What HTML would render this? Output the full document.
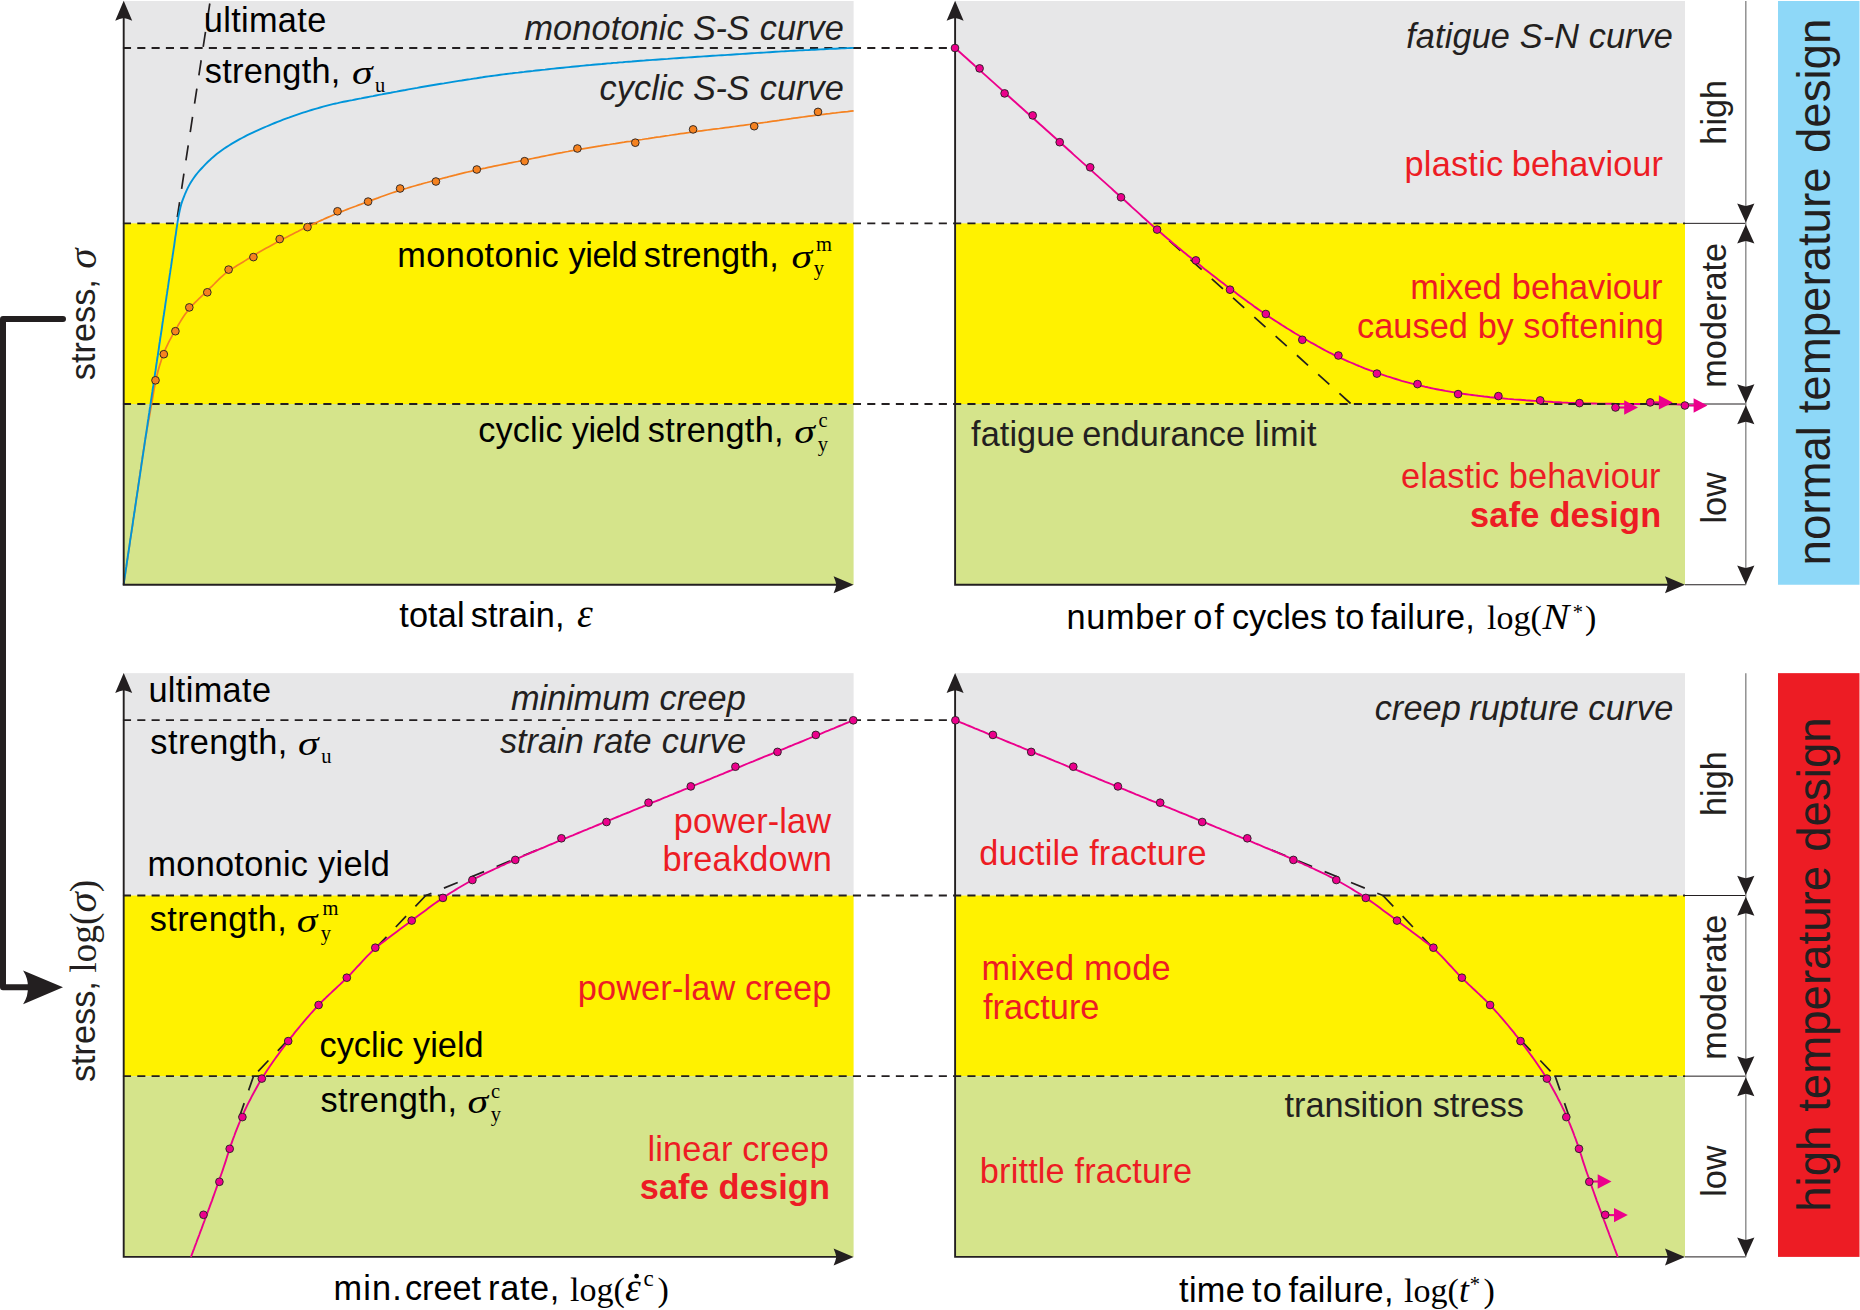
<!DOCTYPE html>
<html lang="en"><head><meta charset="utf-8"><title>Design stress regimes</title>
<style>html,body{margin:0;padding:0;background:#fff}svg{display:block}text{font-family:"Liberation Sans",sans-serif;font-size:34.3px;fill:#231f20;font-kerning:none}.r{fill:#ed1c24}.i{font-style:italic}.b{font-weight:bold}.big{font-size:45.6px}.k{fill:#000}.m{font-family:"Liberation Serif",serif;font-size:34px}.mi{font-family:"Liberation Serif",serif;font-style:italic;font-size:36px}.eps{font-size:40px}.nn{font-size:35.5px}.sub2{font-size:23px}.sub{font-size:20.5px}.sg{font-size:34.7px}.rs{font-size:41px}.rm{font-size:37.5px}</style></head><body>
<svg width="1860" height="1310" viewBox="0 0 1860 1310">
<rect width="1860" height="1310" fill="#fff"/>
<rect x="123.7" y="1.0" width="729.9" height="222.35" fill="#e7e7e8"/>
<rect x="123.7" y="223.35" width="729.9" height="180.65" fill="#fff200"/>
<rect x="123.7" y="404.0" width="729.9" height="180.75" fill="#d5e48b"/>
<rect x="955.1" y="1.0" width="729.9" height="222.35" fill="#e7e7e8"/>
<rect x="955.1" y="223.35" width="729.9" height="180.65" fill="#fff200"/>
<rect x="955.1" y="404.0" width="729.9" height="180.75" fill="#d5e48b"/>
<rect x="123.7" y="673.15" width="729.9" height="222.35" fill="#e7e7e8"/>
<rect x="123.7" y="895.5" width="729.9" height="180.65" fill="#fff200"/>
<rect x="123.7" y="1076.15" width="729.9" height="180.75" fill="#d5e48b"/>
<rect x="955.1" y="673.15" width="729.9" height="222.35" fill="#e7e7e8"/>
<rect x="955.1" y="895.5" width="729.9" height="180.65" fill="#fff200"/>
<rect x="955.1" y="1076.15" width="729.9" height="180.75" fill="#d5e48b"/>
<rect x="1778" y="1.0" width="81.5" height="583.75" fill="#8ed8f8"/>
<rect x="1778" y="673.15" width="81.5" height="583.75" fill="#ed1c24"/>
<path d="M122.95,48.0H955.1" stroke="#231f20" stroke-width="1.85" stroke-dasharray="8.1 6.213" fill="none"/>
<path d="M122.95,223.35H1685.0" stroke="#231f20" stroke-width="1.85" stroke-dasharray="8.1 6.213" fill="none"/>
<path d="M122.95,404.0H1685.0" stroke="#231f20" stroke-width="1.85" stroke-dasharray="8.1 6.213" fill="none"/>
<path d="M1685.0,223.35H1745.8" stroke="#231f20" stroke-width="1.0" fill="none"/>
<path d="M1685.0,404.0H1745.8" stroke="#231f20" stroke-width="1.0" fill="none"/>
<path d="M1685.0,584.75H1745.8" stroke="#231f20" stroke-width="1.0" fill="none"/>
<path d="M1745.8,1.0V584.75" stroke="#8a8a8a" stroke-width="1.4" fill="none"/>
<path d="M0,0L-19,8.6Q-17.125,3.87 -16.5,0Q-17.125,-3.87 -19,-8.6Z" fill="#231f20" transform="translate(1745.8,222.54999999999998) rotate(90)"/>
<path d="M0,0L-19,8.6Q-17.125,3.87 -16.5,0Q-17.125,-3.87 -19,-8.6Z" fill="#231f20" transform="translate(1745.8,224.54999999999998) rotate(-90)"/>
<path d="M0,0L-19,8.6Q-17.125,3.87 -16.5,0Q-17.125,-3.87 -19,-8.6Z" fill="#231f20" transform="translate(1745.8,403.2) rotate(90)"/>
<path d="M0,0L-19,8.6Q-17.125,3.87 -16.5,0Q-17.125,-3.87 -19,-8.6Z" fill="#231f20" transform="translate(1745.8,405.2) rotate(-90)"/>
<path d="M0,0L-19,8.6Q-17.125,3.87 -16.5,0Q-17.125,-3.87 -19,-8.6Z" fill="#231f20" transform="translate(1745.8,584.45) rotate(90)"/>
<path d="M122.95,720.15H955.1" stroke="#231f20" stroke-width="1.85" stroke-dasharray="8.1 6.213" fill="none"/>
<path d="M122.95,895.5H1685.0" stroke="#231f20" stroke-width="1.85" stroke-dasharray="8.1 6.213" fill="none"/>
<path d="M122.95,1076.15H1685.0" stroke="#231f20" stroke-width="1.85" stroke-dasharray="8.1 6.213" fill="none"/>
<path d="M1685.0,895.5H1745.8" stroke="#231f20" stroke-width="1.0" fill="none"/>
<path d="M1685.0,1076.15H1745.8" stroke="#231f20" stroke-width="1.0" fill="none"/>
<path d="M1685.0,1256.9H1745.8" stroke="#231f20" stroke-width="1.0" fill="none"/>
<path d="M1745.8,673.15V1256.9" stroke="#8a8a8a" stroke-width="1.4" fill="none"/>
<path d="M0,0L-19,8.6Q-17.125,3.87 -16.5,0Q-17.125,-3.87 -19,-8.6Z" fill="#231f20" transform="translate(1745.8,894.7) rotate(90)"/>
<path d="M0,0L-19,8.6Q-17.125,3.87 -16.5,0Q-17.125,-3.87 -19,-8.6Z" fill="#231f20" transform="translate(1745.8,896.7) rotate(-90)"/>
<path d="M0,0L-19,8.6Q-17.125,3.87 -16.5,0Q-17.125,-3.87 -19,-8.6Z" fill="#231f20" transform="translate(1745.8,1075.3500000000001) rotate(90)"/>
<path d="M0,0L-19,8.6Q-17.125,3.87 -16.5,0Q-17.125,-3.87 -19,-8.6Z" fill="#231f20" transform="translate(1745.8,1077.3500000000001) rotate(-90)"/>
<path d="M0,0L-19,8.6Q-17.125,3.87 -16.5,0Q-17.125,-3.87 -19,-8.6Z" fill="#231f20" transform="translate(1745.8,1256.6000000000001) rotate(90)"/>
<path d="M209.8,3.5L177.3,217.2" stroke="#231f20" stroke-width="1.7" stroke-dasharray="15.2 13.5" fill="none"/>
<path d="M123.6,584.8L124.0,581.8L124.5,578.8L124.9,575.8L125.4,572.9L125.8,569.9L126.3,566.9L126.7,563.9L127.1,561.0L127.6,558.0L128.0,555.0L128.5,552.0L128.9,549.1L129.4,546.1L129.8,543.1L130.2,540.1L130.7,537.2L131.1,534.2L131.6,531.2L132.0,528.2L132.5,525.3L132.9,522.3L133.3,519.3L133.8,516.4L134.2,513.4L134.7,510.4L135.1,507.4L135.6,504.5L136.0,501.5L136.4,498.5L136.9,495.5L137.3,492.6L137.8,489.6L138.2,486.6L138.6,483.6L139.0,480.7L139.5,477.7L139.9,474.7L140.3,471.7L140.8,468.7L141.2,465.8L141.6,462.8L142.1,459.8L142.5,456.8L143.0,453.9L143.4,450.9L143.9,447.9L144.4,445.0L144.9,442.0L145.3,439.0L145.9,436.1L146.4,433.1L146.9,430.2L147.4,427.2L148.0,424.2L148.5,421.3L149.1,418.3L149.6,415.4L150.1,412.4L150.6,409.4L151.1,406.5L151.6,403.5L152.2,400.5L152.7,397.6L153.2,394.6L153.7,391.6L154.2,388.7L154.8,385.7L155.3,382.8L156.0,379.8L156.6,376.9L157.3,374.0L158.0,371.1L158.8,368.2L159.7,365.3L160.6,362.4L161.5,359.5L162.5,356.7L163.5,353.9L164.6,351.1L165.8,348.4L167.1,345.6L168.4,342.9L169.8,340.2L171.2,337.6L172.6,334.9L174.1,332.3L175.5,329.7L177.1,327.1L178.6,324.5L180.2,321.9L181.8,319.3L183.4,316.8L185.1,314.3L186.9,311.9L188.7,309.6L190.6,307.3L192.6,305.1L194.7,302.9L196.8,300.8L199.0,298.7L201.2,296.6L203.4,294.5L205.6,292.5L207.8,290.4L209.9,288.2L212.1,286.1L214.2,284.0L216.3,281.8L218.5,279.7L220.6,277.6L222.9,275.6L225.1,273.7L227.5,271.8L229.9,270.1L232.4,268.4L234.9,266.9L237.5,265.3L240.1,263.8L242.7,262.2L245.2,260.6L247.8,259.0L250.4,257.5L252.9,255.9L255.5,254.4L258.1,252.8L260.7,251.3L263.3,249.8L265.9,248.3L268.5,246.9L271.2,245.4L273.8,244.0L276.5,242.5L279.1,241.1L281.8,239.7L284.4,238.3L287.1,236.9L289.8,235.5L292.4,234.2L295.1,232.8L297.8,231.5L300.5,230.1L303.2,228.8L305.9,227.5L308.6,226.2L311.3,224.9L314.1,223.6L316.8,222.4L319.5,221.1L322.3,219.9L325.0,218.6L327.8,217.4L330.5,216.2L333.3,215.0L336.0,213.8L338.8,212.7L341.6,211.6L344.4,210.5L347.2,209.4L350.0,208.3L352.8,207.2L355.6,206.2L358.4,205.1L361.3,204.1L364.1,203.0L366.9,202.0L369.7,201.0L372.6,199.9L375.4,198.9L378.2,197.9L381.0,196.8L383.9,195.8L386.7,194.8L389.5,193.8L392.4,192.8L395.2,191.9L398.1,190.9L401.0,190.0L403.8,189.1L406.7,188.3L409.6,187.4L412.5,186.5L415.3,185.7L418.2,184.9L421.1,184.1L424.0,183.2L426.9,182.5L429.8,181.7L432.7,180.9L435.6,180.1L438.5,179.3L441.5,178.6L444.4,177.8L447.3,177.1L450.2,176.3L453.1,175.6L456.0,174.9L458.9,174.1L461.9,173.4L464.8,172.7L467.7,172.0L470.6,171.4L473.6,170.7L476.5,170.0L479.4,169.4L482.4,168.7L485.3,168.1L488.3,167.4L491.2,166.8L494.1,166.2L497.1,165.6L500.0,165.0L503.0,164.4L505.9,163.8L508.9,163.2L511.8,162.6L514.8,162.0L517.7,161.5L520.7,160.9L523.6,160.3L526.6,159.7L529.5,159.1L532.5,158.5L535.4,157.9L538.4,157.3L541.3,156.7L544.2,156.1L547.2,155.5L550.1,154.9L553.1,154.3L556.0,153.7L559.0,153.1L561.9,152.6L564.9,152.0L567.9,151.5L570.8,150.9L573.8,150.4L576.7,149.8L579.7,149.3L582.6,148.8L585.6,148.3L588.6,147.8L591.5,147.3L594.5,146.8L597.5,146.3L600.4,145.9L603.4,145.4L606.4,144.9L609.4,144.5L612.3,144.0L615.3,143.6L618.3,143.1L621.2,142.6L624.2,142.2L627.2,141.7L630.2,141.3L633.1,140.8L636.1,140.4L639.1,139.9L642.1,139.5L645.0,139.0L648.0,138.6L651.0,138.1L653.9,137.7L656.9,137.2L659.9,136.8L662.9,136.3L665.8,135.9L668.8,135.5L671.8,135.0L674.8,134.6L677.7,134.2L680.7,133.7L683.7,133.3L686.7,132.9L689.6,132.5L692.6,132.1L695.6,131.6L698.6,131.2L701.6,130.8L704.5,130.4L707.5,130.0L710.5,129.6L713.5,129.2L716.5,128.8L719.4,128.5L722.4,128.1L725.4,127.7L728.4,127.3L731.4,126.9L734.4,126.5L737.3,126.1L740.3,125.7L743.3,125.3L746.3,124.9L749.3,124.5L752.2,124.1L755.2,123.7L758.2,123.3L761.2,122.9L764.2,122.5L767.1,122.1L770.1,121.6L773.1,121.2L776.1,120.8L779.0,120.4L782.0,119.9L785.0,119.5L788.0,119.1L790.9,118.7L793.9,118.2L796.9,117.8L799.9,117.4L802.9,117.0L805.8,116.6L808.8,116.2L811.8,115.8L814.8,115.4L817.8,115.0L820.7,114.7L823.7,114.3L826.7,113.9L829.7,113.6L832.7,113.2L835.7,112.9L838.7,112.5L841.6,112.2L844.6,111.9L847.6,111.6L850.6,111.2L853.6,110.9" stroke="#f58220" stroke-width="1.7" fill="none"/>
<path d="M123.6,584.8L124.0,581.8L124.5,578.8L124.9,575.8L125.4,572.9L125.8,569.9L126.3,566.9L126.7,564.0L127.1,561.0L127.6,558.0L128.0,555.0L128.5,552.1L128.9,549.1L129.4,546.1L129.8,543.2L130.2,540.2L130.7,537.2L131.1,534.3L131.6,531.3L132.0,528.3L132.5,525.3L132.9,522.4L133.3,519.4L133.8,516.4L134.2,513.5L134.7,510.5L135.1,507.5L135.5,504.6L136.0,501.6L136.4,498.6L136.9,495.6L137.3,492.7L137.8,489.7L138.2,486.7L138.6,483.8L139.1,480.8L139.5,477.8L140.0,474.9L140.4,471.9L140.9,468.9L141.3,465.9L141.7,463.0L142.2,460.0L142.6,457.0L143.1,454.1L143.5,451.1L144.0,448.1L144.4,445.1L144.8,442.2L145.3,439.2L145.7,436.2L146.2,433.3L146.6,430.3L147.1,427.3L147.5,424.4L147.9,421.4L148.4,418.4L148.8,415.4L149.3,412.5L149.7,409.5L150.2,406.5L150.6,403.6L151.0,400.6L151.5,397.6L151.9,394.7L152.4,391.7L152.8,388.7L153.3,385.7L153.7,382.8L154.1,379.8L154.6,376.8L155.0,373.9L155.5,370.9L155.9,367.9L156.3,365.0L156.8,362.0L157.2,359.0L157.7,356.0L158.1,353.1L158.6,350.1L159.0,347.1L159.4,344.2L159.9,341.2L160.3,338.2L160.8,335.2L161.2,332.3L161.7,329.3L162.1,326.3L162.5,323.4L163.0,320.4L163.4,317.4L163.9,314.5L164.3,311.5L164.8,308.5L165.2,305.5L165.6,302.6L166.1,299.6L166.5,296.6L167.0,293.7L167.4,290.7L167.9,287.7L168.3,284.8L168.7,281.8L169.2,278.8L169.6,275.8L170.1,272.9L170.5,269.9L171.0,266.9L171.4,264.0L171.8,261.0L172.3,258.0L172.7,255.1L173.2,252.1L173.6,249.1L174.1,246.1L174.5,243.2L174.9,240.2L175.3,237.2L175.8,234.3L176.2,231.3L176.6,228.3L177.1,225.3L177.5,222.4L178.0,219.4L178.5,216.4L179.1,213.5L179.7,210.6L180.4,207.6L181.1,204.8L182.0,201.9L183.0,199.1L184.1,196.3L185.2,193.5L186.4,190.8L187.7,188.1L189.1,185.4L190.6,182.8L192.2,180.2L193.9,177.8L195.6,175.4L197.5,173.0L199.5,170.7L201.5,168.5L203.5,166.3L205.6,164.1L207.7,162.0L209.9,160.0L212.1,157.9L214.4,156.0L216.7,154.1L219.1,152.3L221.5,150.5L223.9,148.8L226.4,147.1L229.0,145.5L231.5,143.9L234.1,142.4L236.7,140.9L239.3,139.4L242.0,138.0L244.6,136.6L247.3,135.2L250.0,133.9L252.7,132.6L255.4,131.3L258.2,130.1L260.9,128.9L263.7,127.7L266.4,126.5L269.2,125.3L272.0,124.1L274.7,123.0L277.5,121.9L280.3,120.8L283.1,119.7L285.9,118.7L288.8,117.7L291.6,116.6L294.4,115.6L297.3,114.6L300.1,113.7L303.0,112.7L305.8,111.8L308.7,110.9L311.5,110.0L314.4,109.1L317.3,108.3L320.2,107.5L323.1,106.7L326.0,105.9L328.9,105.1L331.8,104.4L334.7,103.7L337.6,103.1L340.6,102.4L343.5,101.8L346.5,101.2L349.4,100.6L352.4,100.1L355.3,99.5L358.3,98.9L361.2,98.4L364.2,97.8L367.1,97.2L370.0,96.6L373.0,96.1L375.9,95.5L378.9,94.9L381.8,94.4L384.8,93.8L387.7,93.2L390.7,92.7L393.6,92.1L396.6,91.6L399.6,91.0L402.5,90.5L405.5,90.0L408.4,89.4L411.4,88.9L414.3,88.4L417.3,87.9L420.2,87.3L423.2,86.8L426.2,86.3L429.1,85.8L432.1,85.3L435.1,84.8L438.0,84.3L441.0,83.8L443.9,83.4L446.9,82.9L449.9,82.4L452.8,81.9L455.8,81.4L458.8,80.9L461.7,80.5L464.7,80.0L467.7,79.5L470.6,79.1L473.6,78.6L476.6,78.2L479.5,77.7L482.5,77.3L485.5,76.8L488.4,76.4L491.4,76.0L494.4,75.6L497.4,75.2L500.3,74.8L503.3,74.4L506.3,74.0L509.3,73.6L512.3,73.3L515.2,72.9L518.2,72.6L521.2,72.2L524.2,71.9L527.2,71.5L530.2,71.2L533.1,70.9L536.1,70.5L539.1,70.2L542.1,69.9L545.1,69.6L548.1,69.2L551.1,68.9L554.0,68.6L557.0,68.3L560.0,68.0L563.0,67.7L566.0,67.4L569.0,67.1L572.0,66.8L575.0,66.5L578.0,66.2L580.9,65.9L583.9,65.6L586.9,65.3L589.9,65.1L592.9,64.8L595.9,64.5L598.9,64.2L601.9,64.0L604.9,63.7L607.9,63.4L610.8,63.2L613.8,62.9L616.8,62.7L619.8,62.4L622.8,62.2L625.8,61.9L628.8,61.7L631.8,61.5L634.8,61.2L637.8,61.0L640.8,60.8L643.8,60.6L646.8,60.3L649.8,60.1L652.8,59.9L655.8,59.7L658.8,59.5L661.7,59.3L664.7,59.1L667.7,58.9L670.7,58.6L673.7,58.4L676.7,58.2L679.7,58.0L682.7,57.8L685.7,57.6L688.7,57.4L691.7,57.2L694.7,57.0L697.7,56.8L700.7,56.6L703.7,56.4L706.7,56.2L709.7,56.0L712.7,55.8L715.7,55.6L718.7,55.4L721.7,55.2L724.7,55.1L727.7,54.9L730.7,54.7L733.7,54.5L736.7,54.3L739.7,54.1L742.7,53.9L745.7,53.7L748.6,53.5L751.6,53.3L754.6,53.1L757.6,52.9L760.6,52.7L763.6,52.6L766.6,52.4L769.6,52.2L772.6,52.0L775.6,51.8L778.6,51.6L781.6,51.4L784.6,51.3L787.6,51.1L790.6,50.9L793.6,50.7L796.6,50.6L799.6,50.4L802.6,50.3L805.6,50.1L808.6,50.0L811.6,49.8L814.6,49.7L817.6,49.5L820.6,49.4L823.6,49.2L826.6,49.1L829.6,48.9L832.6,48.8L835.6,48.7L838.6,48.5L841.6,48.4L844.6,48.3L847.6,48.1L850.6,48.0L853.6,47.9" stroke="#0095da" stroke-width="1.9" fill="none"/>
<circle cx="155.5" cy="380.3" r="3.85" fill="#f58220" stroke="#231f20" stroke-width="0.9"/>
<circle cx="163.8" cy="354.2" r="3.85" fill="#f58220" stroke="#231f20" stroke-width="0.9"/>
<circle cx="175.4" cy="331.2" r="3.85" fill="#f58220" stroke="#231f20" stroke-width="0.9"/>
<circle cx="189.3" cy="307.4" r="3.85" fill="#f58220" stroke="#231f20" stroke-width="0.9"/>
<circle cx="207.3" cy="292.3" r="3.85" fill="#f58220" stroke="#231f20" stroke-width="0.9"/>
<circle cx="228.6" cy="269.6" r="3.85" fill="#f58220" stroke="#231f20" stroke-width="0.9"/>
<circle cx="253.4" cy="257.1" r="3.85" fill="#f58220" stroke="#231f20" stroke-width="0.9"/>
<circle cx="279.7" cy="239.1" r="3.85" fill="#f58220" stroke="#231f20" stroke-width="0.9"/>
<circle cx="307.5" cy="227.1" r="3.85" fill="#f58220" stroke="#231f20" stroke-width="0.9"/>
<circle cx="337.5" cy="211.3" r="3.85" fill="#f58220" stroke="#231f20" stroke-width="0.9"/>
<circle cx="368.1" cy="201.6" r="3.85" fill="#f58220" stroke="#231f20" stroke-width="0.9"/>
<circle cx="400.1" cy="188.5" r="3.85" fill="#f58220" stroke="#231f20" stroke-width="0.9"/>
<circle cx="435.9" cy="181.5" r="3.85" fill="#f58220" stroke="#231f20" stroke-width="0.9"/>
<circle cx="476.8" cy="169.5" r="3.85" fill="#f58220" stroke="#231f20" stroke-width="0.9"/>
<circle cx="524.6" cy="161.2" r="3.85" fill="#f58220" stroke="#231f20" stroke-width="0.9"/>
<circle cx="577.4" cy="148.5" r="3.85" fill="#f58220" stroke="#231f20" stroke-width="0.9"/>
<circle cx="635.3" cy="142.7" r="3.85" fill="#f58220" stroke="#231f20" stroke-width="0.9"/>
<circle cx="693.1" cy="129.4" r="3.85" fill="#f58220" stroke="#231f20" stroke-width="0.9"/>
<circle cx="754.2" cy="126.2" r="3.85" fill="#f58220" stroke="#231f20" stroke-width="0.9"/>
<circle cx="818.0" cy="111.9" r="3.85" fill="#f58220" stroke="#231f20" stroke-width="0.9"/>
<path d="M123.7,11.0V584.75H843.6" stroke="#231f20" stroke-width="1.9" fill="none" stroke-linejoin="miter"/>
<path d="M0,0L-20.0,8.5Q-17.975,3.825 -17.3,0Q-17.975,-3.825 -20.0,-8.5Z" fill="#231f20" transform="translate(123.7,0.8) rotate(-90)"/>
<path d="M0,0L-20.0,8.5Q-17.975,3.825 -17.3,0Q-17.975,-3.825 -20.0,-8.5Z" fill="#231f20" transform="translate(853.6,584.75) rotate(0)"/>
<path d="M955.1,11.0V584.75H1675.0" stroke="#231f20" stroke-width="1.9" fill="none" stroke-linejoin="miter"/>
<path d="M0,0L-20.0,8.5Q-17.975,3.825 -17.3,0Q-17.975,-3.825 -20.0,-8.5Z" fill="#231f20" transform="translate(955.1,0.8) rotate(-90)"/>
<path d="M0,0L-20.0,8.5Q-17.975,3.825 -17.3,0Q-17.975,-3.825 -20.0,-8.5Z" fill="#231f20" transform="translate(1685.0,584.75) rotate(0)"/>
<path d="M123.7,683.15V1256.9H843.6" stroke="#231f20" stroke-width="1.9" fill="none" stroke-linejoin="miter"/>
<path d="M0,0L-20.0,8.5Q-17.975,3.825 -17.3,0Q-17.975,-3.825 -20.0,-8.5Z" fill="#231f20" transform="translate(123.7,672.9499999999999) rotate(-90)"/>
<path d="M0,0L-20.0,8.5Q-17.975,3.825 -17.3,0Q-17.975,-3.825 -20.0,-8.5Z" fill="#231f20" transform="translate(853.6,1256.9) rotate(0)"/>
<path d="M955.1,683.15V1256.9H1675.0" stroke="#231f20" stroke-width="1.9" fill="none" stroke-linejoin="miter"/>
<path d="M0,0L-20.0,8.5Q-17.975,3.825 -17.3,0Q-17.975,-3.825 -20.0,-8.5Z" fill="#231f20" transform="translate(955.1,672.9499999999999) rotate(-90)"/>
<path d="M0,0L-20.0,8.5Q-17.975,3.825 -17.3,0Q-17.975,-3.825 -20.0,-8.5Z" fill="#231f20" transform="translate(1685.0,1256.9) rotate(0)"/>
<path d="M1350.6,403.5L1163,235" stroke="#231f20" stroke-width="1.7" stroke-dasharray="15 13.6" fill="none"/>
<path d="M955.1,48.0L957.3,50.0L959.6,52.0L961.8,54.0L964.0,56.0L966.3,58.0L968.5,60.0L970.7,62.0L973.0,64.0L975.2,66.1L977.4,68.1L979.7,70.1L981.9,72.1L984.1,74.1L986.4,76.1L988.6,78.1L990.8,80.1L993.1,82.1L995.3,84.1L997.5,86.1L999.8,88.1L1002.0,90.1L1004.2,92.1L1006.4,94.1L1008.7,96.2L1010.9,98.2L1013.1,100.2L1015.4,102.2L1017.6,104.2L1019.8,106.2L1022.1,108.2L1024.3,110.2L1026.5,112.2L1028.8,114.2L1031.0,116.2L1033.2,118.2L1035.5,120.2L1037.7,122.2L1039.9,124.3L1042.2,126.3L1044.4,128.3L1046.6,130.3L1048.9,132.3L1051.1,134.3L1053.3,136.3L1055.6,138.3L1057.8,140.3L1060.0,142.3L1062.2,144.3L1064.5,146.3L1066.7,148.3L1068.9,150.3L1071.2,152.3L1073.4,154.4L1075.6,156.4L1077.9,158.4L1080.1,160.4L1082.3,162.4L1084.6,164.4L1086.8,166.4L1089.0,168.4L1091.3,170.4L1093.5,172.4L1095.7,174.4L1098.0,176.4L1100.2,178.4L1102.4,180.4L1104.7,182.4L1106.9,184.4L1109.1,186.4L1111.4,188.4L1113.6,190.5L1115.8,192.5L1118.1,194.5L1120.3,196.5L1122.5,198.5L1124.8,200.5L1127.0,202.5L1129.2,204.5L1131.4,206.6L1133.6,208.6L1135.9,210.6L1138.1,212.6L1140.3,214.6L1142.5,216.7L1144.8,218.7L1147.0,220.7L1149.2,222.7L1151.5,224.7L1153.7,226.7L1156.0,228.6L1158.2,230.6L1160.5,232.6L1162.8,234.5L1165.1,236.5L1167.4,238.4L1169.7,240.3L1171.9,242.3L1174.2,244.2L1176.6,246.1L1178.9,248.1L1181.2,250.0L1183.5,251.9L1185.8,253.8L1188.1,255.7L1190.5,257.6L1192.8,259.5L1195.1,261.4L1197.5,263.3L1199.8,265.1L1202.1,267.0L1204.5,268.9L1206.9,270.7L1209.2,272.6L1211.6,274.4L1214.0,276.3L1216.3,278.1L1218.7,279.9L1221.1,281.8L1223.5,283.6L1225.9,285.4L1228.3,287.2L1230.7,289.0L1233.1,290.8L1235.5,292.6L1237.9,294.4L1240.3,296.2L1242.7,298.0L1245.1,299.8L1247.5,301.6L1249.9,303.3L1252.4,305.1L1254.8,306.9L1257.3,308.6L1259.7,310.3L1262.2,312.0L1264.7,313.7L1267.1,315.4L1269.6,317.1L1272.1,318.7L1274.6,320.4L1277.2,322.0L1279.7,323.6L1282.2,325.3L1284.8,326.9L1287.3,328.5L1289.9,330.0L1292.4,331.6L1295.0,333.2L1297.6,334.7L1300.1,336.2L1302.7,337.7L1305.3,339.3L1307.9,340.8L1310.5,342.3L1313.1,343.7L1315.8,345.2L1318.4,346.7L1321.0,348.1L1323.7,349.6L1326.3,351.0L1329.0,352.4L1331.7,353.7L1334.3,355.1L1337.0,356.4L1339.7,357.6L1342.5,358.9L1345.2,360.1L1347.9,361.3L1350.7,362.5L1353.5,363.7L1356.2,364.9L1359.0,366.0L1361.8,367.2L1364.6,368.3L1367.4,369.3L1370.2,370.4L1373.0,371.4L1375.9,372.4L1378.7,373.4L1381.5,374.4L1384.4,375.3L1387.2,376.3L1390.1,377.2L1392.9,378.1L1395.8,379.0L1398.7,379.9L1401.6,380.8L1404.5,381.6L1407.4,382.4L1410.3,383.2L1413.2,383.9L1416.1,384.7L1419.0,385.4L1421.9,386.0L1424.8,386.7L1427.8,387.3L1430.7,388.0L1433.6,388.6L1436.6,389.2L1439.5,389.8L1442.5,390.3L1445.4,390.9L1448.4,391.4L1451.4,391.9L1454.3,392.4L1457.3,392.9L1460.2,393.3L1463.2,393.8L1466.2,394.2L1469.2,394.6L1472.1,395.0L1475.1,395.4L1478.1,395.8L1481.1,396.1L1484.1,396.5L1487.0,396.8L1490.0,397.2L1493.0,397.5L1496.0,397.8L1499.0,398.1L1502.0,398.3L1505.0,398.6L1507.9,398.9L1510.9,399.1L1513.9,399.4L1516.9,399.6L1519.9,399.8L1522.9,400.0L1525.9,400.3L1528.9,400.5L1531.9,400.7L1534.9,400.9L1537.9,401.1L1540.9,401.2L1543.9,401.4L1546.9,401.6L1549.9,401.8L1552.9,402.0L1555.9,402.1L1558.9,402.3L1561.9,402.5L1564.9,402.6L1567.9,402.8L1570.9,402.9L1573.9,403.0L1576.9,403.1L1579.9,403.2L1582.9,403.3L1585.9,403.4L1588.9,403.4L1591.9,403.5L1594.9,403.5L1597.9,403.6L1600.9,403.7L1603.9,403.7L1606.9,403.7L1609.9,403.8L1612.9,403.8L1615.9,403.9L1618.9,403.9L1621.9,403.9L1624.9,403.9L1627.9,404.0L1630.9,404.0L1633.9,404.0L1636.9,404.0L1639.9,404.0L1642.9,404.0L1645.9,404.1L1648.9,404.1L1651.9,404.1L1654.9,404.1L1657.9,404.2L1660.9,404.2L1663.9,404.3L1666.9,404.3L1669.9,404.3L1672.9,404.4L1675.9,404.4L1678.9,404.5L1681.9,404.5L1684.9,404.6" stroke="#ec008c" stroke-width="1.9" fill="none" stroke-linejoin="round"/>
<path d="M1568.56,404.0H1685.0" stroke="#231f20" stroke-width="1.85" stroke-dasharray="8.1 6.213" fill="none"/>
<path d="M1615.5,407.5h10" stroke="#ec008c" stroke-width="2.1"/>
<path d="M1638.0,407.5l-13.8,-7.2v14.4z" fill="#ec008c"/>
<path d="M1650.2,402.4h10" stroke="#ec008c" stroke-width="2.1"/>
<path d="M1672.7,402.4l-13.8,-7.2v14.4z" fill="#ec008c"/>
<path d="M1684.9,405.5h10" stroke="#ec008c" stroke-width="2.1"/>
<path d="M1707.4,405.5l-13.8,-7.2v14.4z" fill="#ec008c"/>
<circle cx="955.0" cy="48.0" r="3.85" fill="#ec008c" stroke="#231f20" stroke-width="0.9"/>
<circle cx="979.6" cy="68.4" r="3.85" fill="#ec008c" stroke="#231f20" stroke-width="0.9"/>
<circle cx="1004.6" cy="93.4" r="3.85" fill="#ec008c" stroke="#231f20" stroke-width="0.9"/>
<circle cx="1032.7" cy="115.4" r="3.85" fill="#ec008c" stroke="#231f20" stroke-width="0.9"/>
<circle cx="1059.7" cy="142.2" r="3.85" fill="#ec008c" stroke="#231f20" stroke-width="0.9"/>
<circle cx="1090.2" cy="167.3" r="3.85" fill="#ec008c" stroke="#231f20" stroke-width="0.9"/>
<circle cx="1121.0" cy="197.3" r="3.85" fill="#ec008c" stroke="#231f20" stroke-width="0.9"/>
<circle cx="1157.1" cy="229.6" r="3.85" fill="#ec008c" stroke="#231f20" stroke-width="0.9"/>
<circle cx="1195.9" cy="260.4" r="3.85" fill="#ec008c" stroke="#231f20" stroke-width="0.9"/>
<circle cx="1230.0" cy="289.7" r="3.85" fill="#ec008c" stroke="#231f20" stroke-width="0.9"/>
<circle cx="1265.8" cy="314.0" r="3.85" fill="#ec008c" stroke="#231f20" stroke-width="0.9"/>
<circle cx="1302.3" cy="339.8" r="3.85" fill="#ec008c" stroke="#231f20" stroke-width="0.9"/>
<circle cx="1338.4" cy="355.5" r="3.85" fill="#ec008c" stroke="#231f20" stroke-width="0.9"/>
<circle cx="1376.9" cy="373.6" r="3.85" fill="#ec008c" stroke="#231f20" stroke-width="0.9"/>
<circle cx="1417.5" cy="384.1" r="3.85" fill="#ec008c" stroke="#231f20" stroke-width="0.9"/>
<circle cx="1458.1" cy="394.1" r="3.85" fill="#ec008c" stroke="#231f20" stroke-width="0.9"/>
<circle cx="1498.4" cy="396.1" r="3.85" fill="#ec008c" stroke="#231f20" stroke-width="0.9"/>
<circle cx="1540.2" cy="400.4" r="3.85" fill="#ec008c" stroke="#231f20" stroke-width="0.9"/>
<circle cx="1579.5" cy="403.1" r="3.85" fill="#ec008c" stroke="#231f20" stroke-width="0.9"/>
<circle cx="1615.5" cy="407.5" r="3.85" fill="#ec008c" stroke="#231f20" stroke-width="0.9"/>
<circle cx="1650.2" cy="402.4" r="3.85" fill="#ec008c" stroke="#231f20" stroke-width="0.9"/>
<circle cx="1684.9" cy="405.5" r="3.85" fill="#ec008c" stroke="#231f20" stroke-width="0.9"/>
<path d="M536.9,850.0L523.0,855.7M510.5,860.8L496.6,866.5M484.1,871.6L470.2,877.3M457.7,882.5L443.9,888.1M431.4,893.3L425.8,895.5" stroke="#231f20" stroke-width="1.7" fill="none"/>
<path d="M425.8,895.5L415.4,906.4M406.1,916.2L395.8,927.0M386.5,936.8L376.1,947.7M288.1,1039.9L277.8,1050.8M268.4,1060.5L258.1,1071.4" stroke="#231f20" stroke-width="1.7" fill="none"/>
<path d="M253.5,1076.2L248.6,1090.4M244.2,1103.1L239.3,1117.3" stroke="#231f20" stroke-width="1.7" fill="none"/>
<path d="M1271.8,850.0L1285.7,855.7M1298.2,860.8L1312.1,866.5M1324.6,871.6L1338.5,877.3M1351.0,882.5L1364.8,888.1M1377.3,893.3L1382.9,895.5" stroke="#231f20" stroke-width="1.7" fill="none"/>
<path d="M1382.9,895.5L1393.3,906.4M1402.6,916.2L1412.9,927.0M1422.2,936.8L1432.6,947.7M1520.6,1039.9L1530.9,1050.8M1540.3,1060.5L1550.6,1071.4" stroke="#231f20" stroke-width="1.7" fill="none"/>
<path d="M1555.2,1076.2L1560.1,1090.4M1564.5,1103.1L1569.4,1117.3" stroke="#231f20" stroke-width="1.7" fill="none"/>
<path d="M190.9,1257.0L192.0,1254.2L193.0,1251.4L194.1,1248.6L195.1,1245.8L196.2,1243.0L197.2,1240.1L198.3,1237.3L199.4,1234.5L200.4,1231.7L201.5,1228.9L202.5,1226.1L203.5,1223.3L204.6,1220.5L205.6,1217.6L206.7,1214.8L207.7,1212.0L208.8,1209.2L209.8,1206.4L210.8,1203.6L211.9,1200.8L212.9,1197.9L213.9,1195.1L214.9,1192.3L215.9,1189.5L216.9,1186.6L217.9,1183.8L218.9,1181.0L219.9,1178.1L220.9,1175.3L221.9,1172.5L222.9,1169.6L223.8,1166.8L224.8,1163.9L225.7,1161.1L226.6,1158.2L227.5,1155.3L228.5,1152.5L229.4,1149.6L230.3,1146.8L231.3,1143.9L232.3,1141.1L233.3,1138.3L234.4,1135.5L235.4,1132.7L236.5,1129.9L237.6,1127.1L238.7,1124.3L239.9,1121.5L241.0,1118.7L242.2,1116.0L243.5,1113.3L244.7,1110.5L246.0,1107.8L247.3,1105.1L248.7,1102.4L250.1,1099.8L251.4,1097.1L252.8,1094.5L254.3,1091.8L255.7,1089.2L257.2,1086.5L258.6,1083.9L260.2,1081.3L261.7,1078.8L263.3,1076.2L264.9,1073.7L266.5,1071.2L268.2,1068.7L269.9,1066.2L271.6,1063.7L273.3,1061.3L275.1,1058.8L276.8,1056.4L278.6,1054.0L280.4,1051.5L282.1,1049.1L283.9,1046.7L285.8,1044.3L287.6,1041.9L289.4,1039.5L291.2,1037.2L293.1,1034.8L294.9,1032.4L296.8,1030.1L298.7,1027.8L300.6,1025.5L302.6,1023.2L304.5,1020.9L306.4,1018.6L308.4,1016.3L310.4,1014.0L312.4,1011.8L314.4,1009.6L316.4,1007.4L318.4,1005.2L320.5,1003.0L322.6,1000.9L324.8,998.8L326.9,996.7L329.1,994.6L331.3,992.6L333.5,990.5L335.7,988.5L337.9,986.4L340.1,984.4L342.3,982.3L344.4,980.2L346.6,978.1L348.7,976.0L350.8,973.8L352.8,971.6L354.9,969.4L356.9,967.2L359.0,965.0L361.0,962.8L363.0,960.6L365.1,958.4L367.2,956.2L369.3,954.1L371.4,952.0L373.6,949.9L375.8,947.9L378.1,946.0L380.4,944.1L382.8,942.3L385.2,940.5L387.6,938.6L390.0,936.8L392.3,935.0L394.7,933.2L397.1,931.4L399.6,929.6L402.0,927.8L404.4,926.0L406.8,924.2L409.2,922.4L411.6,920.7L414.0,918.9L416.4,917.1L418.8,915.3L421.2,913.5L423.7,911.7L426.1,909.9L428.5,908.1L430.9,906.3L433.3,904.5L435.8,902.8L438.2,901.1L440.7,899.4L443.2,897.7L445.7,896.1L448.2,894.4L450.7,892.8L453.3,891.2L455.8,889.6L458.4,888.0L461.0,886.5L463.6,885.0L466.2,883.5L468.8,882.0L471.4,880.5L474.0,879.1L476.7,877.7L479.3,876.4L482.0,875.0L484.7,873.7L487.4,872.4L490.1,871.1L492.8,869.8L495.6,868.5L498.3,867.3L501.0,866.0L503.8,864.8L506.5,863.5L509.3,862.3L512.0,861.1L514.7,859.9L517.5,858.6L520.2,857.4L523.0,856.2L525.7,855.0L528.5,853.8L531.2,852.6L534.0,851.5L536.8,850.3L539.5,849.1L542.3,848.0L545.1,846.8L547.8,845.7L550.6,844.5L553.4,843.4L556.2,842.2L558.9,841.0L561.7,839.9L564.5,838.7L567.2,837.6L570.0,836.4L572.8,835.3L575.6,834.1L578.3,833.0L581.1,831.8L583.9,830.7L586.7,829.6L589.4,828.4L592.2,827.3L595.0,826.1L597.8,825.0L600.5,823.9L603.3,822.7L606.1,821.6L608.9,820.4L611.6,819.3L614.4,818.1L617.2,817.0L620.0,815.9L622.8,814.7L625.5,813.6L628.3,812.5L631.1,811.3L633.9,810.2L636.6,809.1L639.4,807.9L642.2,806.8L645.0,805.6L647.8,804.5L650.5,803.4L653.3,802.2L656.1,801.1L658.9,800.0L661.6,798.8L664.4,797.7L667.2,796.6L670.0,795.4L672.8,794.3L675.5,793.1L678.3,792.0L681.1,790.9L683.9,789.7L686.7,788.6L689.4,787.5L692.2,786.3L695.0,785.2L697.8,784.0L700.5,782.9L703.3,781.8L706.1,780.6L708.9,779.5L711.6,778.3L714.4,777.2L717.2,776.1L720.0,774.9L722.8,773.8L725.5,772.6L728.3,771.5L731.1,770.4L733.9,769.2L736.6,768.1L739.4,767.0L742.2,765.8L745.0,764.7L747.8,763.5L750.5,762.4L753.3,761.3L756.1,760.1L758.9,759.0L761.6,757.9L764.4,756.7L767.2,755.6L770.0,754.5L772.8,753.3L775.5,752.2L778.3,751.1L781.1,749.9L783.9,748.8L786.7,747.7L789.4,746.5L792.2,745.4L795.0,744.2L797.8,743.1L800.5,742.0L803.3,740.8L806.1,739.7L808.9,738.5L811.6,737.4L814.4,736.3L817.2,735.1L820.0,734.0L822.8,732.8L825.5,731.7L828.3,730.6L831.1,729.4L833.9,728.3L836.6,727.1L839.4,726.0L842.2,724.9L845.0,723.7L847.7,722.6L850.5,721.4L853.3,720.3" stroke="#ec008c" stroke-width="1.9" fill="none"/>
<circle cx="203.5" cy="1214.8" r="3.85" fill="#ec008c" stroke="#231f20" stroke-width="0.9"/>
<circle cx="219.4" cy="1181.8" r="3.85" fill="#ec008c" stroke="#231f20" stroke-width="0.9"/>
<circle cx="229.7" cy="1148.8" r="3.85" fill="#ec008c" stroke="#231f20" stroke-width="0.9"/>
<circle cx="242.4" cy="1117.1" r="3.85" fill="#ec008c" stroke="#231f20" stroke-width="0.9"/>
<circle cx="261.8" cy="1078.6" r="3.85" fill="#ec008c" stroke="#231f20" stroke-width="0.9"/>
<circle cx="288.2" cy="1041.1" r="3.85" fill="#ec008c" stroke="#231f20" stroke-width="0.9"/>
<circle cx="318.6" cy="1005.0" r="3.85" fill="#ec008c" stroke="#231f20" stroke-width="0.9"/>
<circle cx="346.8" cy="977.7" r="3.85" fill="#ec008c" stroke="#231f20" stroke-width="0.9"/>
<circle cx="375.3" cy="947.7" r="3.85" fill="#ec008c" stroke="#231f20" stroke-width="0.9"/>
<circle cx="411.7" cy="920.6" r="3.85" fill="#ec008c" stroke="#231f20" stroke-width="0.9"/>
<circle cx="442.9" cy="897.9" r="3.85" fill="#ec008c" stroke="#231f20" stroke-width="0.9"/>
<circle cx="472.4" cy="880.0" r="3.85" fill="#ec008c" stroke="#231f20" stroke-width="0.9"/>
<circle cx="515.3" cy="859.9" r="3.85" fill="#ec008c" stroke="#231f20" stroke-width="0.9"/>
<circle cx="561.4" cy="838.3" r="3.85" fill="#ec008c" stroke="#231f20" stroke-width="0.9"/>
<circle cx="606.5" cy="822.0" r="3.85" fill="#ec008c" stroke="#231f20" stroke-width="0.9"/>
<circle cx="648.5" cy="802.7" r="3.85" fill="#ec008c" stroke="#231f20" stroke-width="0.9"/>
<circle cx="690.8" cy="786.4" r="3.85" fill="#ec008c" stroke="#231f20" stroke-width="0.9"/>
<circle cx="735.4" cy="766.7" r="3.85" fill="#ec008c" stroke="#231f20" stroke-width="0.9"/>
<circle cx="777.5" cy="751.9" r="3.85" fill="#ec008c" stroke="#231f20" stroke-width="0.9"/>
<circle cx="815.8" cy="734.9" r="3.85" fill="#ec008c" stroke="#231f20" stroke-width="0.9"/>
<circle cx="853.3" cy="720.3" r="3.85" fill="#ec008c" stroke="#231f20" stroke-width="0.9"/>
<path d="M1617.8,1257.0L1616.7,1254.2L1615.7,1251.4L1614.6,1248.6L1613.6,1245.8L1612.5,1243.0L1611.5,1240.1L1610.4,1237.3L1609.3,1234.5L1608.3,1231.7L1607.2,1228.9L1606.2,1226.1L1605.2,1223.3L1604.1,1220.5L1603.1,1217.6L1602.0,1214.8L1601.0,1212.0L1599.9,1209.2L1598.9,1206.4L1597.9,1203.6L1596.8,1200.8L1595.8,1197.9L1594.8,1195.1L1593.8,1192.3L1592.8,1189.5L1591.8,1186.6L1590.8,1183.8L1589.8,1181.0L1588.8,1178.1L1587.8,1175.3L1586.8,1172.5L1585.8,1169.6L1584.9,1166.8L1583.9,1163.9L1583.0,1161.1L1582.1,1158.2L1581.2,1155.3L1580.2,1152.5L1579.3,1149.6L1578.4,1146.8L1577.4,1143.9L1576.4,1141.1L1575.4,1138.3L1574.3,1135.5L1573.3,1132.7L1572.2,1129.9L1571.1,1127.1L1570.0,1124.3L1568.8,1121.5L1567.7,1118.7L1566.5,1116.0L1565.2,1113.3L1564.0,1110.5L1562.7,1107.8L1561.4,1105.1L1560.0,1102.4L1558.6,1099.8L1557.3,1097.1L1555.9,1094.5L1554.4,1091.8L1553.0,1089.2L1551.5,1086.5L1550.1,1083.9L1548.5,1081.3L1547.0,1078.8L1545.4,1076.2L1543.8,1073.7L1542.2,1071.2L1540.5,1068.7L1538.8,1066.2L1537.1,1063.7L1535.4,1061.3L1533.6,1058.8L1531.9,1056.4L1530.1,1054.0L1528.3,1051.5L1526.6,1049.1L1524.8,1046.7L1522.9,1044.3L1521.1,1041.9L1519.3,1039.5L1517.5,1037.2L1515.6,1034.8L1513.8,1032.4L1511.9,1030.1L1510.0,1027.8L1508.1,1025.5L1506.1,1023.2L1504.2,1020.9L1502.3,1018.6L1500.3,1016.3L1498.3,1014.0L1496.3,1011.8L1494.3,1009.6L1492.3,1007.4L1490.3,1005.2L1488.2,1003.0L1486.1,1000.9L1483.9,998.8L1481.8,996.7L1479.6,994.6L1477.4,992.6L1475.2,990.5L1473.0,988.5L1470.8,986.4L1468.6,984.4L1466.4,982.3L1464.3,980.2L1462.1,978.1L1460.0,976.0L1457.9,973.8L1455.9,971.6L1453.8,969.4L1451.8,967.2L1449.7,965.0L1447.7,962.8L1445.7,960.6L1443.6,958.4L1441.5,956.2L1439.4,954.1L1437.3,952.0L1435.1,949.9L1432.9,947.9L1430.6,946.0L1428.3,944.1L1425.9,942.3L1423.5,940.5L1421.1,938.6L1418.7,936.8L1416.4,935.0L1414.0,933.2L1411.6,931.4L1409.1,929.6L1406.7,927.8L1404.3,926.0L1401.9,924.2L1399.5,922.4L1397.1,920.7L1394.7,918.9L1392.3,917.1L1389.9,915.3L1387.5,913.5L1385.0,911.7L1382.6,909.9L1380.2,908.1L1377.8,906.3L1375.4,904.5L1372.9,902.8L1370.5,901.1L1368.0,899.4L1365.5,897.7L1363.0,896.1L1360.5,894.4L1358.0,892.8L1355.4,891.2L1352.9,889.6L1350.3,888.0L1347.7,886.5L1345.1,885.0L1342.5,883.5L1339.9,882.0L1337.3,880.5L1334.7,879.1L1332.0,877.7L1329.4,876.4L1326.7,875.0L1324.0,873.7L1321.3,872.4L1318.6,871.1L1315.9,869.8L1313.1,868.5L1310.4,867.3L1307.7,866.0L1304.9,864.8L1302.2,863.5L1299.4,862.3L1296.7,861.1L1294.0,859.9L1291.2,858.6L1288.5,857.4L1285.7,856.2L1283.0,855.0L1280.2,853.8L1277.5,852.6L1274.7,851.5L1271.9,850.3L1269.2,849.1L1266.4,848.0L1263.6,846.8L1260.9,845.7L1258.1,844.5L1255.3,843.4L1252.5,842.2L1249.8,841.0L1247.0,839.9L1244.2,838.7L1241.5,837.6L1238.7,836.4L1235.9,835.3L1233.1,834.1L1230.4,833.0L1227.6,831.8L1224.8,830.7L1222.0,829.6L1219.3,828.4L1216.5,827.3L1213.7,826.1L1210.9,825.0L1208.2,823.9L1205.4,822.7L1202.6,821.6L1199.8,820.4L1197.1,819.3L1194.3,818.1L1191.5,817.0L1188.7,815.9L1185.9,814.7L1183.2,813.6L1180.4,812.5L1177.6,811.3L1174.8,810.2L1172.1,809.1L1169.3,807.9L1166.5,806.8L1163.7,805.6L1160.9,804.5L1158.2,803.4L1155.4,802.2L1152.6,801.1L1149.8,800.0L1147.1,798.8L1144.3,797.7L1141.5,796.6L1138.7,795.4L1135.9,794.3L1133.2,793.1L1130.4,792.0L1127.6,790.9L1124.8,789.7L1122.0,788.6L1119.3,787.5L1116.5,786.3L1113.7,785.2L1110.9,784.0L1108.2,782.9L1105.4,781.8L1102.6,780.6L1099.8,779.5L1097.1,778.3L1094.3,777.2L1091.5,776.1L1088.7,774.9L1085.9,773.8L1083.2,772.6L1080.4,771.5L1077.6,770.4L1074.8,769.2L1072.1,768.1L1069.3,767.0L1066.5,765.8L1063.7,764.7L1060.9,763.5L1058.2,762.4L1055.4,761.3L1052.6,760.1L1049.8,759.0L1047.1,757.9L1044.3,756.7L1041.5,755.6L1038.7,754.5L1035.9,753.3L1033.2,752.2L1030.4,751.1L1027.6,749.9L1024.8,748.8L1022.0,747.7L1019.3,746.5L1016.5,745.4L1013.7,744.2L1010.9,743.1L1008.2,742.0L1005.4,740.8L1002.6,739.7L999.8,738.5L997.1,737.4L994.3,736.3L991.5,735.1L988.7,734.0L985.9,732.8L983.2,731.7L980.4,730.6L977.6,729.4L974.8,728.3L972.1,727.1L969.3,726.0L966.5,724.9L963.7,723.7L961.0,722.6L958.2,721.4L955.4,720.3" stroke="#ec008c" stroke-width="1.9" fill="none"/>
<path d="M1589.0,1181.5h10" stroke="#ec008c" stroke-width="2.1"/>
<path d="M1611.5,1181.5l-13.8,-7.2v14.4z" fill="#ec008c"/>
<path d="M1605.3,1215.1h10" stroke="#ec008c" stroke-width="2.1"/>
<path d="M1627.8,1215.1l-13.8,-7.2v14.4z" fill="#ec008c"/>
<circle cx="1605.2" cy="1214.8" r="3.85" fill="#ec008c" stroke="#231f20" stroke-width="0.9"/>
<circle cx="1589.3" cy="1181.8" r="3.85" fill="#ec008c" stroke="#231f20" stroke-width="0.9"/>
<circle cx="1579.0" cy="1148.8" r="3.85" fill="#ec008c" stroke="#231f20" stroke-width="0.9"/>
<circle cx="1566.3" cy="1117.1" r="3.85" fill="#ec008c" stroke="#231f20" stroke-width="0.9"/>
<circle cx="1546.9" cy="1078.6" r="3.85" fill="#ec008c" stroke="#231f20" stroke-width="0.9"/>
<circle cx="1520.5" cy="1041.1" r="3.85" fill="#ec008c" stroke="#231f20" stroke-width="0.9"/>
<circle cx="1490.1" cy="1005.0" r="3.85" fill="#ec008c" stroke="#231f20" stroke-width="0.9"/>
<circle cx="1461.9" cy="977.7" r="3.85" fill="#ec008c" stroke="#231f20" stroke-width="0.9"/>
<circle cx="1433.4" cy="947.7" r="3.85" fill="#ec008c" stroke="#231f20" stroke-width="0.9"/>
<circle cx="1397.0" cy="920.6" r="3.85" fill="#ec008c" stroke="#231f20" stroke-width="0.9"/>
<circle cx="1365.8" cy="897.9" r="3.85" fill="#ec008c" stroke="#231f20" stroke-width="0.9"/>
<circle cx="1336.3" cy="880.0" r="3.85" fill="#ec008c" stroke="#231f20" stroke-width="0.9"/>
<circle cx="1293.4" cy="859.9" r="3.85" fill="#ec008c" stroke="#231f20" stroke-width="0.9"/>
<circle cx="1247.3" cy="838.3" r="3.85" fill="#ec008c" stroke="#231f20" stroke-width="0.9"/>
<circle cx="1202.2" cy="822.0" r="3.85" fill="#ec008c" stroke="#231f20" stroke-width="0.9"/>
<circle cx="1160.2" cy="802.7" r="3.85" fill="#ec008c" stroke="#231f20" stroke-width="0.9"/>
<circle cx="1117.9" cy="786.4" r="3.85" fill="#ec008c" stroke="#231f20" stroke-width="0.9"/>
<circle cx="1073.3" cy="766.7" r="3.85" fill="#ec008c" stroke="#231f20" stroke-width="0.9"/>
<circle cx="1031.2" cy="751.9" r="3.85" fill="#ec008c" stroke="#231f20" stroke-width="0.9"/>
<circle cx="992.9" cy="734.9" r="3.85" fill="#ec008c" stroke="#231f20" stroke-width="0.9"/>
<circle cx="955.4" cy="720.3" r="3.85" fill="#ec008c" stroke="#231f20" stroke-width="0.9"/>
<path d="M63,319H3V987.2H30" stroke="#231f20" stroke-width="6" fill="none" stroke-linecap="round" stroke-linejoin="round"/>
<path d="M63,987.2L23.1,970.4Q28.5,979 27.8,987.2Q28.5,995.5 23.1,1004.2Z" fill="#231f20"/>
<text id="t0" x="203.75" y="31.7" class="k" style="letter-spacing:0.341px">ultimate</text>
<text id="t1" x="204.83" y="83.4" class="k" style="letter-spacing:0.259px">strength,</text>
<text id="t2" x="524.42" y="39.9" class="i" style="letter-spacing:0.135px">monotonic</text>
<text id="t3" x="693.10" y="39.9" class="i" style="letter-spacing:-0.393px">S-S</text>
<text id="t4" x="759.70" y="39.9" class="i" style="letter-spacing:0.095px">curve</text>
<text id="t5" x="599.42" y="100.4" class="i" style="letter-spacing:0.113px">cyclic</text>
<text id="t6" x="693.10" y="100.4" class="i" style="letter-spacing:-0.393px">S-S</text>
<text id="t7" x="759.70" y="100.4" class="i" style="letter-spacing:0.095px">curve</text>
<text id="t8" x="397.18" y="266.8" class="k" style="letter-spacing:0.414px">monotonic</text>
<text id="t9" x="568.40" y="266.8" class="k" style="letter-spacing:-0.364px">yield</text>
<text id="t10" x="643.83" y="266.8" class="k" style="letter-spacing:0.201px">strength,</text>
<text id="t11" x="478.19" y="442.1" class="k" style="letter-spacing:0.103px">cyclic</text>
<text id="t12" x="571.69" y="442.1" class="k" style="letter-spacing:-0.392px">yield</text>
<text id="t13" x="647.73" y="442.1" class="k" style="letter-spacing:0.305px">strength,</text>
<text id="t14" x="399.22" y="627.0" class="k" style="letter-spacing:0.141px">total</text>
<text id="t15" x="470.83" y="627.0" class="k" style="letter-spacing:0.042px">strain,</text>
<text id="t16" transform="translate(95.3,380.15) rotate(-90)">stress,</text>
<text id="t17" x="1406.19" y="47.7" class="i" style="letter-spacing:0.127px">fatigue</text>
<text id="t18" x="1519.86" y="47.7" class="i" style="letter-spacing:0.087px">S-N</text>
<text id="t19" x="1588.70" y="47.7" class="i" style="letter-spacing:0.090px">curve</text>
<text id="t20" x="1404.44" y="176.2" class="r" style="letter-spacing:0.255px">plastic</text>
<text id="t21" x="1511.76" y="176.2" class="r" style="letter-spacing:0.067px">behaviour</text>
<text id="t22" x="1410.29" y="298.8" class="r" style="letter-spacing:-0.055px">mixed</text>
<text id="t23" x="1511.84" y="298.8" class="r" style="letter-spacing:-0.016px">behaviour</text>
<text id="t24" x="1356.92" y="337.5" class="r" style="letter-spacing:0.075px">caused</text>
<text id="t25" x="1477.84" y="337.5" class="r" style="letter-spacing:-0.486px">by</text>
<text id="t26" x="1523.37" y="337.5" class="r" style="letter-spacing:0.147px">softening</text>
<text id="t27" x="971.06" y="445.5" style="letter-spacing:0.077px">fatigue</text>
<text id="t28" x="1082.16" y="445.5" style="letter-spacing:0.118px">endurance</text>
<text id="t29" x="1254.16" y="445.5" style="letter-spacing:0.349px">limit</text>
<text id="t30" x="1401.06" y="488.2" class="r" style="letter-spacing:0.130px">elastic behaviour</text>
<text id="t31" x="1470.00" y="527.0" class="r b" style="letter-spacing:0.246px">safe design</text>
<text id="t32" x="1066.49" y="629.0" class="k" style="letter-spacing:0.646px">number</text>
<text id="t33" x="1193.28" y="629.0" class="k" style="letter-spacing:1.954px">of</text>
<text id="t34" x="1231.92" y="629.0" class="k" style="letter-spacing:-0.064px">cycles</text>
<text id="t35" x="1335.14" y="629.0" class="k" style="letter-spacing:0.473px">to</text>
<text id="t36" x="1370.56" y="629.0" class="k" style="letter-spacing:0.201px">failure,</text>
<text id="t37" x="148.41" y="702.3" class="k" style="letter-spacing:0.355px">ultimate</text>
<text id="t38" x="150.37" y="754.4" class="k" style="letter-spacing:0.420px">strength,</text>
<text id="t39" x="147.42" y="875.8" class="k" style="letter-spacing:0.289px">monotonic yield</text>
<text id="t40" x="149.65" y="931.4" class="k" style="letter-spacing:0.460px">strength,</text>
<text id="t41" x="511.00" y="709.8" class="i" style="letter-spacing:-0.023px">minimum</text>
<text id="t42" x="659.42" y="709.8" class="i" style="letter-spacing:0.166px">creep</text>
<text id="t43" x="499.92" y="753.4" class="i" style="letter-spacing:-0.009px">strain</text>
<text id="t44" x="593.00" y="753.4" class="i" style="letter-spacing:-0.149px">rate</text>
<text id="t45" x="661.64" y="753.4" class="i" style="letter-spacing:0.164px">curve</text>
<text id="t46" x="673.76" y="832.5" class="r" style="letter-spacing:0.113px">power-law</text>
<text id="t47" x="662.39" y="870.8" class="r" style="letter-spacing:0.223px">breakdown</text>
<text id="t48" x="577.74" y="999.7" class="r" style="letter-spacing:0.146px">power-law creep</text>
<text id="t49" x="319.51" y="1057.0" class="k" style="letter-spacing:0.025px">cyclic yield</text>
<text id="t50" x="320.56" y="1112.2" class="k" style="letter-spacing:0.383px">strength,</text>
<text id="t51" x="647.40" y="1161.0" class="r" style="letter-spacing:0.207px">linear creep</text>
<text id="t52" x="639.67" y="1198.6" class="r b" style="letter-spacing:0.151px">safe design</text>
<text id="t53" x="333.38" y="1300.4" class="k" style="letter-spacing:1.193px">min.</text>
<text id="t54" x="404.92" y="1300.4" class="k" style="letter-spacing:-0.017px">creet</text>
<text id="t55" x="488.08" y="1300.4" class="k" style="letter-spacing:0.651px">rate,</text>
<text id="t56" transform="translate(95.3,1082.11) rotate(-90)">stress,</text>
<text id="t57" x="1374.64" y="719.5" class="i" style="letter-spacing:0.097px">creep</text>
<text id="t58" x="1469.22" y="719.5" class="i" style="letter-spacing:0.149px">rupture</text>
<text id="t59" x="1588.34" y="719.5" class="i" style="letter-spacing:0.259px">curve</text>
<text id="t60" x="979.28" y="865.1" class="r" style="letter-spacing:0.155px">ductile fracture</text>
<text id="t61" x="981.47" y="980.0" class="r" style="letter-spacing:0.259px">mixed mode</text>
<text id="t62" x="982.92" y="1019.0" class="r" style="letter-spacing:0.038px">fracture</text>
<text id="t63" x="1284.61" y="1117.2" style="letter-spacing:-0.051px">transition stress</text>
<text id="t64" x="979.84" y="1183.0" class="r" style="letter-spacing:0.164px">brittle fracture</text>
<text id="t65" x="1179.07" y="1301.7" class="k" style="letter-spacing:0.330px">time</text>
<text id="t66" x="1252.01" y="1301.7" class="k" style="letter-spacing:1.238px">to</text>
<text id="t67" x="1288.48" y="1301.7" class="k" style="letter-spacing:0.298px">failure,</text>
<text id="t68" transform="translate(1726.2,144.66) rotate(-90)">high</text>
<text id="t69" transform="translate(1726.2,387.73) rotate(-90)">moderate</text>
<text id="t70" transform="translate(1726.2,523.60) rotate(-90)">low</text>
<text id="t71" transform="translate(1726.2,815.99) rotate(-90)">high</text>
<text id="t72" transform="translate(1726.2,1059.66) rotate(-90)">moderate</text>
<text id="t73" transform="translate(1726.2,1196.84) rotate(-90)">low</text>
<text id="t74" transform="translate(1830.0,565.47) rotate(-90)" class="big">normal</text>
<text id="t75" transform="translate(1830.0,413.33) rotate(-90)" class="big">temperature</text>
<text id="t76" transform="translate(1830.0,153.05) rotate(-90)" class="big">design</text>
<text id="t77" transform="translate(1830.0,1211.81) rotate(-90)" class="big">high</text>
<text id="t78" transform="translate(1830.0,1111.80) rotate(-90)" class="big">temperature</text>
<text id="t79" transform="translate(1830.0,851.75) rotate(-90)" class="big">design</text>
<text id="t80" transform="translate(351.93,84.0) scale(1.2,1)" class="mi k sg">σ</text>
<text id="t81" x="375.08" y="91.9" class="m k sub">u</text>
<text id="t82" transform="translate(791.58,267.8) scale(1.2,1)" class="mi k sg">σ</text>
<text id="t83" x="813.73" y="275.1" class="m k sub">y</text>
<text id="t84" x="815.94" y="251.0" class="m k sub">m</text>
<text id="t85" transform="translate(794.31,442.8) scale(1.2,1)" class="mi k sg">σ</text>
<text id="t86" x="817.74" y="451.0" class="m k sub">y</text>
<text id="t87" x="818.38" y="427.4" class="m k sub">c</text>
<text id="t88" x="577.11" y="627.0" class="mi k eps">ε</text>
<text id="t89" transform="translate(297.93,755.0) scale(1.2,1)" class="mi k sg">σ</text>
<text id="t90" x="321.17" y="763.2" class="m k sub">u</text>
<text id="t91" transform="translate(296.66,932.2) scale(1.2,1)" class="mi k sg">σ</text>
<text id="t92" x="320.73" y="939.6" class="m k sub">y</text>
<text id="t93" x="322.50" y="915.4" class="m k sub">m</text>
<text id="t94" transform="translate(467.58,1113.0) scale(1.2,1)" class="mi k sg">σ</text>
<text id="t95" x="490.63" y="1121.2" class="m k sub">y</text>
<text id="t96" x="491.04" y="1097.6" class="m k sub">c</text>
<text id="t97" x="1487.08" y="628.9" class="m k">log(</text>
<text id="t98" transform="translate(1542.47,628.9) scale(1.13,1)" class="mi k nn">N</text>
<text id="t99" x="1572.64" y="618.9" class="m k sub">*</text>
<text id="t100" x="1585.06" y="628.9" class="m k">)</text>
<text id="t101" x="570.08" y="1300.8" class="m k">log(</text>
<text id="t102" x="625.00" y="1300.8" class="mi k eps">ε</text>
<text id="t103" x="643.51" y="1286.4" class="m k sub2">c</text>
<text id="t104" x="657.60" y="1300.8" class="m k">)</text>
<circle cx="636.6" cy="1276.1" r="2.4" fill="#000"/>
<text id="t105" x="1404.08" y="1302.1" class="m k">log(</text>
<text id="t106" x="1458.97" y="1302.1" class="mi k nn">t</text>
<text id="t107" x="1469.64" y="1291.4" class="m k sub">*</text>
<text id="t108" x="1483.60" y="1302.1" class="m k">)</text>
<text id="t109" transform="translate(95.8,268.71) rotate(-90)" class="mi rs">σ</text>
<text id="t110" transform="translate(95.8,972.82) rotate(-90)" class="m rm">log(<tspan class="mi rs">σ</tspan>)</text>
</svg></body></html>
